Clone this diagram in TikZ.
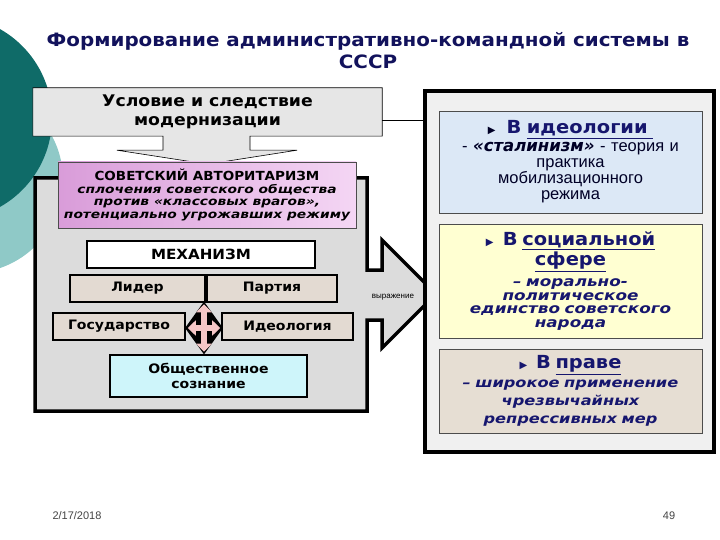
\documentclass[tikz,border=0pt]{standalone}
\usepackage{fontspec}
\setmainfont{Liberation Sans}
\newfontfamily\heavy[FakeStretch=1.08]{DejaVu Sans}
\newfontfamily\heavywide[FakeStretch=1.2]{DejaVu Sans}
\newfontfamily\symfont{DejaVu Sans}
\usetikzlibrary{arrows.meta,positioning,calc,shapes.geometric}
\definecolor{tealdark}{HTML}{0F6B68}
\definecolor{teallight}{HTML}{8FC9C7}
\definecolor{titlenavy}{HTML}{12125C}
\definecolor{textnavy}{HTML}{16166E}
\definecolor{boxgray}{HTML}{E6E6E6}
\definecolor{panelgray}{HTML}{DCDCDC}
\definecolor{resultgray}{HTML}{F0F0F0}
\definecolor{pinkdark}{HTML}{D99CD9}
\definecolor{pinklight}{HTML}{F4D6F4}
\definecolor{beigefill}{HTML}{E3DAD2}
\definecolor{cyanfill}{HTML}{CEF5FA}
\definecolor{bluefill}{HTML}{DCE8F6}
\definecolor{yellowfill}{HTML}{FFFFD2}
\definecolor{lawfill}{HTML}{E6DED3}
\definecolor{crosspink}{HTML}{F5C6C6}
\definecolor{footgray}{HTML}{444444}
\newcommand{\bullettri}{{\symfont\upshape\mdseries\fontsize{10}{10}\selectfont ▶}}
\newcommand{\headfont}{\heavy\bfseries\upshape\fontsize{18}{20}\selectfont}
\tikzset{
  titletext/.style={font=\heavy\bfseries\fontsize{18.4}{22}\selectfont, text=titlenavy, align=center},
  callout/.style={draw=black, semithick, fill=boxgray},
  panel/.style={draw=black, line width=3.5pt, fill=panelgray},
  mech/.style={draw=black, line width=2.5pt, inner sep=2pt, font=\heavy\bfseries\fontsize{13}{15}\selectfont},
  rbox/.style={draw=black!70, thin, align=center, minimum width=263pt, inner sep=2pt, text width=255pt},
  hub/.style={diamond, fill=black, minimum width=38pt, minimum height=53pt, inner sep=0pt},
  crossarrow/.style={draw=crosspink, line width=6pt, {Triangle[length=8pt,width=15pt]}-{Triangle[length=8pt,width=15pt]}, shorten <=3pt, shorten >=3pt}
}
\begin{document}
\begin{tikzpicture}[x=1pt, y=-1pt]
  \useasboundingbox (0,0) rectangle (720,540);
  % background circles
  \begin{scope}
    \clip (0,0) rectangle (720,540);
    \fill[teallight] (-30,180) circle (93);
    \fill[tealdark] (-50,118) circle (102);
  \end{scope}
  % title
  \node[titletext] (title) at (368,51) {Формирование административно-командной системы в\\СССР};
  % condition box with down arrow
  \node[minimum width=349pt, minimum height=48pt, inner sep=0pt] (cond) at (207.5,112) {};
  \draw[callout] (cond.north west) -- (cond.north east) -- (cond.south east)
    -- ($(cond.south)+(42.5,0)$) -- ($(cond.south)+(42.5,14)$) -- ($(cond.south)+(89.5,14)$)
    -- ($(cond.south)+(0,28)$) -- ($(cond.south)+(-90.5,14)$) -- ($(cond.south)+(-44.5,14)$)
    -- ($(cond.south)+(-44.5,0)$) -- (cond.south west) -- cycle;
  \node[font=\heavy\bfseries\fontsize{16}{19}\selectfont, align=center] (condtext) at (cond) {Условие и следствие\\модернизации};
  % left panel with right arrow
  \draw[panel] (35,178) -- (367,178) -- (367,270) -- (382,270) -- (382,240) -- (436,294)
    -- (382,348) -- (382,320) -- (367,320) -- (367,411) -- (35,411) -- cycle;
  \node[font=\fontsize{8}{9}\selectfont] (expr) at (393,297) {выражение};
  % right panel
  \node[draw=black, line width=4pt, fill=resultgray, minimum width=289pt, minimum height=361pt] (result) at (569.5,271.5) {};
  \draw ([yshift=-8pt]cond.east) -- ([yshift=-8pt]cond.east -| result.west);
  % authoritarianism
  \node[draw=black!70, left color=pinkdark, right color=pinklight, minimum width=298pt, minimum height=66pt,
        align=center, inner sep=1pt, font=\heavywide\bfseries\itshape\fontsize{11.5}{12.5}\selectfont] (auth) at (207,195)
    {{\heavy\upshape\fontsize{12.5}{14}\selectfont СОВЕТСКИЙ АВТОРИТАРИЗМ}\\
     сплочения советского общества\\
     против «классовых врагов»,\\
     потенциально угрожавших режиму};
  % mechanism
  \node[mech, fill=white, minimum width=228pt, minimum height=27pt, font=\heavy\bfseries\fontsize{14}{16}\selectfont] (mech) at (201,254.5) {МЕХАНИЗМ};
  \node[mech, fill=beigefill, minimum width=135pt, minimum height=27pt] (leader) at (137.5,288.5) {Лидер};
  \node[mech, fill=beigefill, minimum width=130pt, minimum height=27pt] (party) at (272,288.5) {Партия};
  \node[mech, fill=beigefill, minimum width=132pt, minimum height=27pt] (state) at (119,326.5) {Государство};
  \node[mech, fill=beigefill, minimum width=131pt, minimum height=27pt] (ideol) at (287.5,326.5) {Идеология};
  \node[mech, fill=cyanfill, minimum width=197pt, minimum height=42pt, align=center] (mind) at (208.5,376) {Общественное\\сознание};
  \node[hub] (hub) at (204,328) {};
  \draw[crossarrow] (hub.north) -- (hub.south);
  \draw[crossarrow] (hub.west) -- (hub.east);
  % right side
  \node[rbox, fill=bluefill, minimum height=102pt, text=black!85!blue, font=\fontsize{16.5}{16}\selectfont] (ideo) at (570.5,162)
    {\bullettri\ \ {\headfont\color{textnavy}В \underline{идеологии\ }}\\[2pt]
     - {\symfont\bfseries\itshape «сталинизм»} - теория и\\ практика\\ мобилизационного\\ режима};
  \node[rbox, fill=yellowfill, minimum height=114pt, text=textnavy, font=\heavywide\bfseries\itshape\fontsize{14}{13.5}\selectfont] (social) at (570.5,281)
    {\bullettri\ \ {\headfont В \underline{социальной}}\\[1pt]
     {\headfont\underline{сфере}}\\[6pt]
     – морально-\\ политическое\\ единство советского\\ народа};
  \node[rbox, fill=lawfill, minimum height=84pt, text=textnavy, font=\heavywide\bfseries\itshape\fontsize{13.5}{18}\selectfont] (law) at (570.5,391)
    {\bullettri\ \ {\headfont В \underline{праве}}\\[1pt]
     – широкое применение\\ чрезвычайных\\ репрессивных мер};
  % footer
  \node[text=footgray, font=\fontsize{11}{13}\selectfont] (date) at (77,516) {2/17/2018};
  \node[text=footgray, font=\fontsize{11}{13}\selectfont] (page) at (669,516) {49};
\end{tikzpicture}
\end{document}
